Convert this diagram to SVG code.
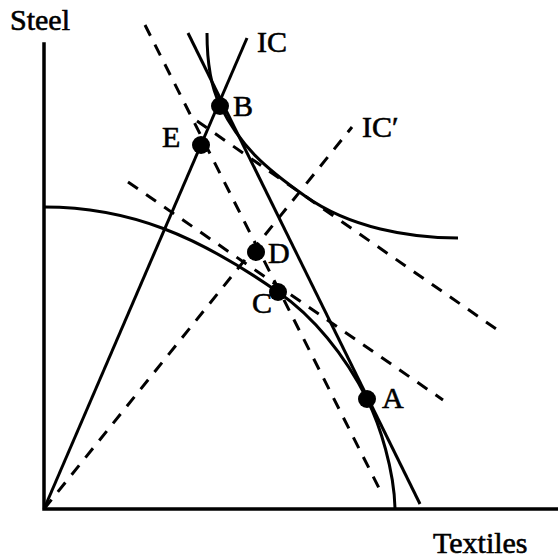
<svg xmlns="http://www.w3.org/2000/svg" width="558" height="560" viewBox="0 0 558 560">
<style>
.ax{stroke:#000;stroke-width:3.5;fill:none;stroke-linecap:square}
.sl{stroke:#000;stroke-width:3;fill:none}
.ds{stroke:#000;stroke-width:3;fill:none;stroke-dasharray:12 10}
.lb{font-family:"Liberation Serif","Times New Roman",serif;font-size:30px;fill:#000;stroke:#000;stroke-width:0.6}
.dot{fill:#000}
</style>
<rect width="558" height="560" fill="#fff"/>
<g id="axes">
<path class="ax" d="M44,44 L44,509 L558,509"/>
</g>
<g id="connectors">
<path class="sl" d="M44,509 L247,38"/>
<path class="sl" d="M188,33 L420,504"/>
<path class="ds" d="M44,509 L352,127"/>
<path class="ds" d="M145,25 L382,494"/>
<path class="ds" d="M128,182 L443,400"/>
<path class="ds" d="M197,121 L502,333"/>
</g>
<g id="ppf">
<path class="sl" d="M44,207 C130,207 198,236 278,292 C313,316 345,355 367,399 C380,425 394,470 395,508"/>
</g>
<g id="ic-curve">
<path class="sl" d="M207,33 C207,60 211,87 220,105 C240,146 265,168 305,196 C350,228 410,238 458,238"/>
</g>
<g id="node-B"><circle class="dot" cx="220" cy="106" r="9"/><text class="lb" x="233" y="116">B</text></g>
<g id="node-E"><circle class="dot" cx="201" cy="145" r="9"/><text class="lb" x="162" y="147">E</text></g>
<g id="node-D"><circle class="dot" cx="256" cy="252" r="9"/><text class="lb" x="268" y="263">D</text></g>
<g id="node-C"><circle class="dot" cx="278" cy="292" r="9"/><text class="lb" x="252" y="313">C</text></g>
<g id="node-A"><circle class="dot" cx="367" cy="399" r="9"/><text class="lb" x="382" y="408">A</text></g>
<g id="labels">
<text class="lb" x="10" y="30">Steel</text>
<text class="lb" x="433" y="553">Textiles</text>
<text class="lb" x="257" y="52">IC</text>
<text class="lb" x="362" y="137">IC′</text>
</g>
</svg>
